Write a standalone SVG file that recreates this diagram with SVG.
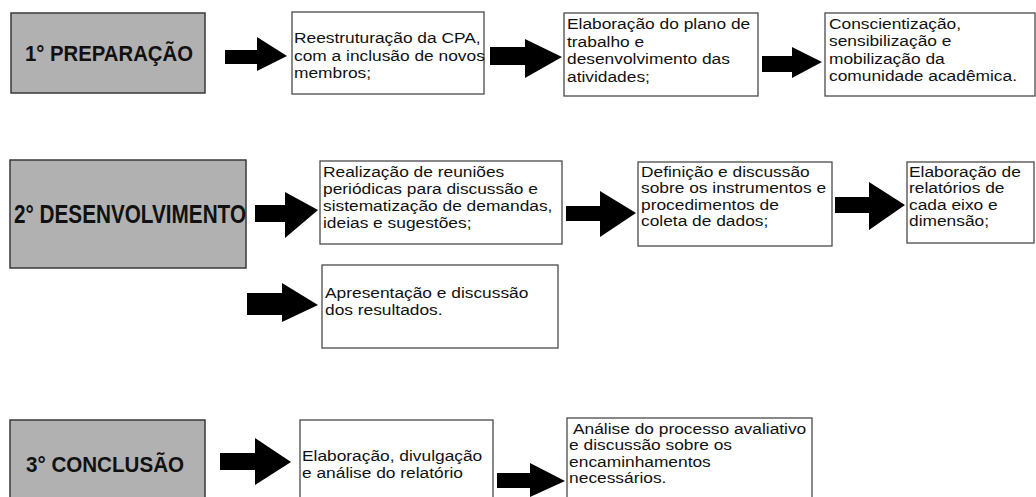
<svg xmlns="http://www.w3.org/2000/svg" width="1036" height="497" viewBox="0 0 1036 497">
<style>
.bg{fill:#ffffff}
.phase{fill:#b1b1b1;stroke:#3a3a3a;stroke-width:1.5}
.box{fill:#ffffff;stroke:#4a4a4a;stroke-width:1.3}
.ht{font-family:"Liberation Sans",Arial,sans-serif;font-weight:bold;fill:#111}
.t{font-family:"Liberation Sans",Arial,sans-serif;font-size:15.5px;fill:#111}
.arr{fill:#000}
</style>
<rect class="bg" x="0" y="0" width="1036" height="497"/>

<g id="connectors">
<polygon class="arr" points="225,50 257,50 257,37 287,56 257,71 257,64 225,64"/>
<polygon class="arr" points="490,47 525,47 525,39 562,57 525,78 525,65 490,65"/>
<polygon class="arr" points="762,56 792,56 792,47 822,62 792,78 792,72 762,72"/>
<polygon class="arr" points="255,205 285,205 285,192 318,210 285,238 285,222 255,222"/>
<polygon class="arr" points="566,206 600,206 600,191 636,213 600,237 600,221 566,221"/>
<polygon class="arr" points="835,197 869,197 869,182 905,205 869,230 869,213 835,213"/>
<polygon class="arr" points="247,293 282,293 282,283 318,305 282,322 282,315 247,315"/>
<polygon class="arr" points="220,453 255,453 255,438 291,462 255,485 255,470 220,470"/>
<polygon class="arr" points="497,473 530,473 530,463 565,481 530,497 530,488 497,488"/>
</g>

<g id="n1">
<rect class="phase" x="11" y="13" width="194" height="80"/>
<text class="ht" x="25" y="61" font-size="22" textLength="168" lengthAdjust="spacingAndGlyphs">1° PREPARAÇÃO</text>
</g>
<g id="n2">
<rect class="box" x="292" y="12" width="192" height="82"/>
<g transform="translate(294,0) scale(1.12,1)">
<text class="t" x="0" y="43.5">Reestruturação da CPA,</text>
<text class="t" x="0" y="61">com a inclusão de novos</text>
<text class="t" x="0" y="78.5">membros;</text>
</g>
</g>
<g id="n3">
<rect class="box" x="564" y="13" width="194" height="83"/>
<g transform="translate(567,0) scale(1.12,1)">
<text class="t" x="0" y="29.5">Elaboração do plano de</text>
<text class="t" x="0" y="47">trabalho e</text>
<text class="t" x="0" y="64.5">desenvolvimento das</text>
<text class="t" x="0" y="82">atividades;</text>
</g>
</g>
<g id="n4">
<rect class="box" x="825" y="13" width="210" height="83"/>
<g transform="translate(829,0) scale(1.12,1)">
<text class="t" x="0" y="29">Conscientização,</text>
<text class="t" x="0" y="46.5">sensibilização e</text>
<text class="t" x="0" y="64">mobilização da</text>
<text class="t" x="0" y="81.5">comunidade acadêmica.</text>
</g>
</g>

<g id="n5">
<rect class="phase" x="10" y="160" width="236" height="108"/>
<text class="ht" x="14" y="223" font-size="25" textLength="232" lengthAdjust="spacingAndGlyphs">2° DESENVOLVIMENTO</text>
</g>
<g id="n6">
<rect class="box" x="320" y="161" width="242" height="83"/>
<g transform="translate(323,0) scale(1.12,1)">
<text class="t" x="0" y="177">Realização de reuniões</text>
<text class="t" x="0" y="194">periódicas para discussão e</text>
<text class="t" x="0" y="211">sistematização de demandas,</text>
<text class="t" x="0" y="228">ideias e sugestões;</text>
</g>
</g>
<g id="n7">
<rect class="box" x="638" y="162" width="194" height="84"/>
<g transform="translate(641,0) scale(1.12,1)">
<text class="t" x="0" y="177">Definição e discussão</text>
<text class="t" x="0" y="193.5">sobre os instrumentos e</text>
<text class="t" x="0" y="210">procedimentos de</text>
<text class="t" x="0" y="226.5">coleta de dados;</text>
</g>
</g>
<g id="n8">
<rect class="box" x="907" y="162" width="127" height="81"/>
<g transform="translate(909,0) scale(1.12,1)">
<text class="t" x="0" y="177">Elaboração de</text>
<text class="t" x="0" y="193.5">relatórios de</text>
<text class="t" x="0" y="210">cada eixo e</text>
<text class="t" x="0" y="226.5">dimensão;</text>
</g>
</g>
<g id="n9">
<rect class="box" x="322" y="265" width="236" height="83"/>
<g transform="translate(325,0) scale(1.12,1)">
<text class="t" x="0" y="298">Apresentação e discussão</text>
<text class="t" x="0" y="315">dos resultados.</text>
</g>
</g>

<g id="n10">
<rect class="phase" x="10" y="420" width="195" height="82"/>
<text class="ht" x="26" y="472" font-size="22" textLength="158" lengthAdjust="spacingAndGlyphs">3° CONCLUSÃO</text>
</g>
<g id="n11">
<rect class="box" x="300" y="420" width="193" height="82"/>
<g transform="translate(302,0) scale(1.12,1)">
<text class="t" x="0" y="461">Elaboração, divulgação</text>
<text class="t" x="0" y="478">e análise do relatório</text>
</g>
</g>
<g id="n12">
<rect class="box" x="567" y="418" width="245" height="84"/>
<g transform="translate(573,0) scale(1.12,1)">
<text class="t" x="0" y="434">Análise do processo avaliativo</text>
<text class="t" x="-3.5" y="450.5">e discussão sobre os</text>
<text class="t" x="-3.5" y="467">encaminhamentos</text>
<text class="t" x="-3.5" y="483.5">necessários.</text>
</g>
</g>
</svg>
